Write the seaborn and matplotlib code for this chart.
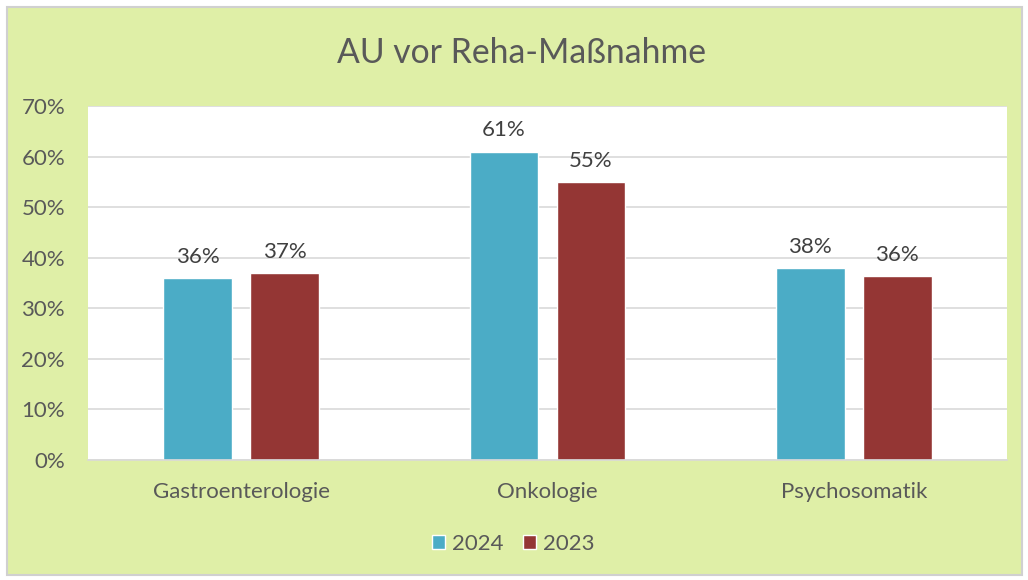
import matplotlib
matplotlib.use("Agg")
import matplotlib.pyplot as plt
import seaborn as sns
import pandas as pd
from matplotlib.patches import Rectangle
from matplotlib.ticker import PercentFormatter

categories = ["Gastroenterologie", "Onkologie", "Psychosomatik"]
years = ["2024", "2023"]
values_2024 = [0.36, 0.61, 0.38]
values_2023 = [0.37, 0.55, 0.364]
yticks = [0, 0.1, 0.2, 0.3, 0.4, 0.5, 0.6, 0.7]

df = pd.DataFrame({
    "Kategorie": categories * 2,
    "Jahr": [years[0]] * 3 + [years[1]] * 3,
    "Wert": values_2024 + values_2023,
})

sns.set_theme(style="white")
plt.rcParams["font.family"] = ["Lato", "DejaVu Sans"]

green = "#DFEFA7"
colors = {"2024": "#4BACC6", "2023": "#943634"}
txt = "#595959"

fig = plt.figure(figsize=(10.28, 5.8), dpi=100)
fig.patch.set_facecolor("white")
bg = Rectangle((7/1028, 5/580), 1015/1028, 568/580, transform=fig.transFigure,
               facecolor=green, edgecolor="#D0D0D0", linewidth=1.5, zorder=-10)
fig.add_artist(bg)

ax = fig.add_axes([88/1028, 120/580, 919/1028, 354/580])
ax.set_zorder(1)
ax.set_facecolor("white")
sns.barplot(data=df, x="Kategorie", y="Wert", hue="Jahr", hue_order=years,
            palette=colors, width=0.568, gap=0.21, ax=ax, saturation=1, legend=True)

ax.set_ylim(0, 0.7)
ax.set_yticks(yticks)
ax.yaxis.set_major_formatter(PercentFormatter(1.0, decimals=0))
ax.grid(axis="y", color="#D9D9D9", linewidth=1.2)
ax.set_axisbelow(True)
for s in ["left", "right", "top"]:
    ax.spines[s].set_visible(False)
ax.spines["bottom"].set_color("#D9D9D9")
ax.spines["bottom"].set_linewidth(1.2)
ax.tick_params(axis="both", length=0, labelsize=16, colors=txt)
ax.tick_params(axis="x", pad=16)
ax.tick_params(axis="y", pad=16.5)
ax.set_xlabel("")
ax.set_ylabel("")

for cont in ax.containers:
    ax.bar_label(cont, labels=[f"{v*100:.0f}%" for v in cont.datavalues],
                 padding=8, fontsize=16, color="#404040")

leg = ax.legend(loc="center", bbox_to_anchor=(0.463, -(544 - 460) / 354), ncol=2, frameon=False,
                fontsize=16, handlelength=0.6, handleheight=0.6, handletextpad=0.32,
                columnspacing=0.86, labelcolor=txt)

fig.text(0.507, 1 - 53/580, "AU vor Reha-Maßnahme", ha="center", va="center",
         fontsize=24.3, color=txt)

fig.savefig("out.png", dpi=100, facecolor=fig.get_facecolor())
